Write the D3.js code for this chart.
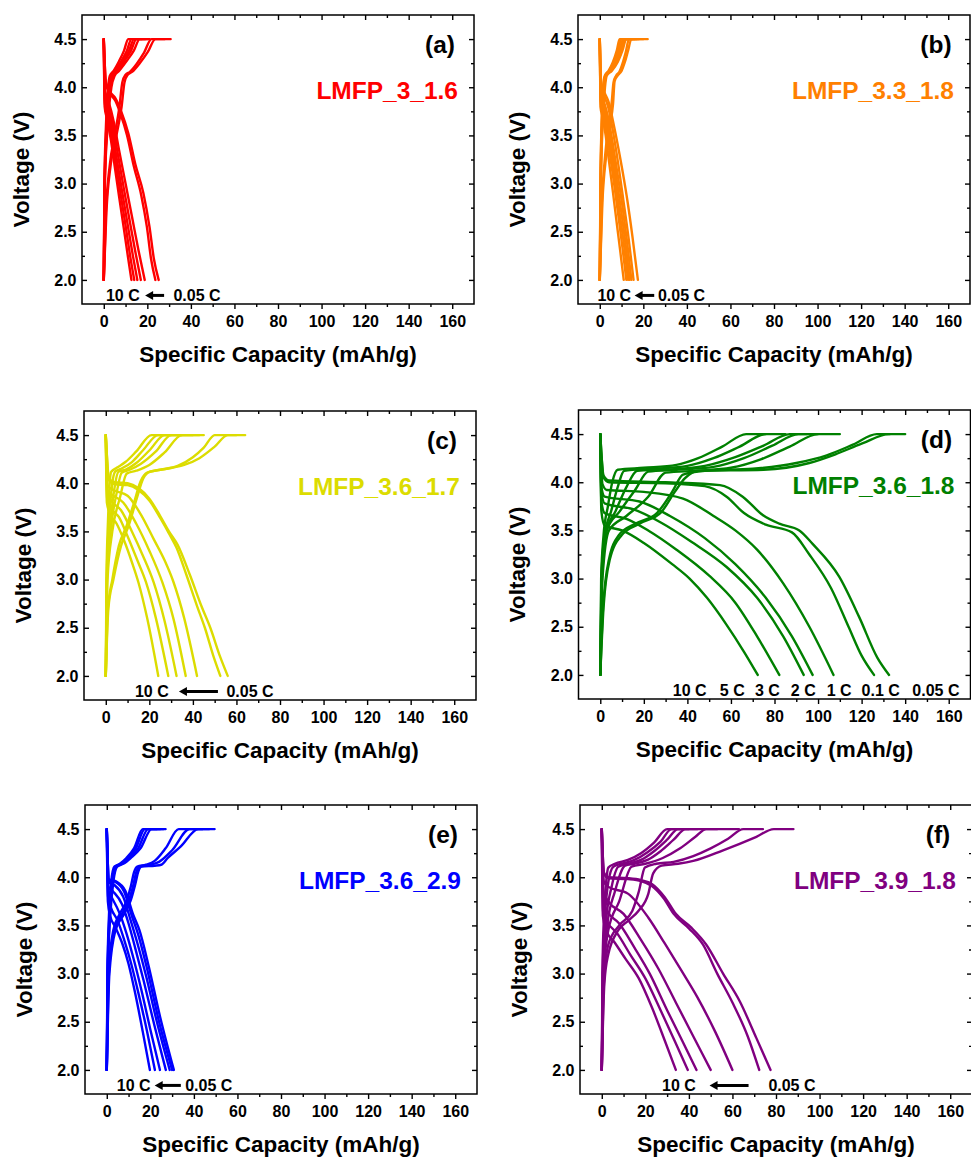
<!DOCTYPE html>
<html>
<head>
<meta charset="utf-8">
<script src="https://cdn.jsdelivr.net/npm/d3@7"></script>
<style>
  body { margin: 0; background: #fff; }
  svg { display: block; }
  text { font-family: "Liberation Sans", Arial, sans-serif; font-weight: bold; }
</style>
</head>
<body>
<svg id="fig" width="971" height="1159"></svg>
<script>
// ---------- data ----------
const rates = ["10 C", "5 C", "3 C", "2 C", "1 C", "0.1 C", "0.05 C"];
const xTickValues = [0, 20, 40, 60, 80, 100, 120, 140, 160];
const yTickValues = [2.0, 2.5, 3.0, 3.5, 4.0, 4.5];
const sampleNames = ["LMFP_3_1.6", "LMFP_3.3_1.8", "LMFP_3.6_1.7", "LMFP_3.6_1.8", "LMFP_3.6_2.9", "LMFP_3.9_1.8"];
const panelLetters = ["(a)", "(b)", "(c)", "(d)", "(e)", "(f)"];

// Each curve: [specific capacity (mAh/g), voltage (V)], one curve per C-rate in `rates` order.
// LMFP_3_1.6
const chargeA = [
  [[0,2.0],[0.3,3.0],[1,3.6],[2,4.0],[2.8,4.12],[4.5,4.17],[7,4.27],[9.3,4.38],[11.2,4.5],[16,4.5]],
  [[0,2.0],[0.35,3.0],[1.2,3.6],[2.3,4.0],[3.3,4.12],[5.2,4.17],[8,4.27],[10.6,4.38],[12.7,4.5],[17.5,4.5]],
  [[0,2.0],[0.4,3.0],[1.4,3.6],[2.6,4.0],[3.8,4.12],[5.8,4.17],[8.7,4.27],[11.6,4.38],[13.9,4.5],[19,4.5]],
  [[0,2.0],[0.45,3.0],[1.6,3.6],[3,4.0],[4.3,4.12],[6.3,4.17],[9.4,4.27],[12.5,4.38],[15,4.5],[20,4.5]],
  [[0,2.0],[0.5,3.0],[1.8,3.6],[3.5,4.0],[5,4.12],[7,4.17],[10.4,4.27],[13.8,4.38],[16.5,4.5],[21.1,4.5]],
  [[0,2.0],[1,2.7],[2.8,3.2],[5,3.5],[7.2,3.8],[8.5,4.05],[10,4.13],[12,4.16],[15,4.24],[18.5,4.36],[21.9,4.5],[28,4.5]],
  [[0,2.0],[1.2,2.7],[3.2,3.2],[5.8,3.5],[8.2,3.8],[9.5,4.05],[11,4.13],[13,4.16],[16.5,4.25],[20.3,4.37],[23.7,4.5],[30.7,4.5]]
];
const dischargeA = [
  [[0,4.5],[0.4,3.8],[1.4,3.68],[3.3,3.45],[5.2,3.15],[7.2,2.84],[9.3,2.52],[11.1,2.24],[12.7,2.0]],
  [[0,4.5],[0.45,3.84],[1.6,3.72],[3.6,3.5],[5.6,3.2],[7.8,2.88],[10.1,2.55],[12.1,2.25],[14,2.0]],
  [[0,4.5],[0.5,3.88],[1.8,3.76],[3.9,3.55],[6,3.25],[8.4,2.92],[11,2.57],[13.3,2.26],[15.4,2.0]],
  [[0,4.5],[0.6,3.92],[2,3.8],[4.2,3.6],[6.5,3.3],[9.2,2.95],[12,2.6],[14.6,2.28],[17,2.0]],
  [[0,4.5],[0.7,3.95],[2.2,3.85],[4.5,3.65],[7,3.35],[10,3.0],[13,2.65],[16,2.3],[18.8,2.0]],
  [[0,4.5],[1,4.03],[3,3.93],[5.3,3.86],[7.6,3.73],[10.7,3.5],[13.8,3.18],[17.2,2.88],[19.8,2.55],[21.7,2.22],[23.7,2.0]],
  [[0,4.5],[1,4.05],[3,3.95],[5.5,3.88],[8,3.75],[11.3,3.52],[14.5,3.2],[18.2,2.9],[21,2.55],[23,2.22],[25.2,2.0]]
];

// LMFP_3.3_1.8
const chargeB = [
  [[0,2.0],[0.3,3.0],[0.8,3.6],[1.5,4.0],[2.3,4.12],[4,4.17],[6,4.26],[7.8,4.38],[9.1,4.5],[14,4.5]],
  [[0,2.0],[0.35,3.0],[0.9,3.6],[1.7,4.0],[2.5,4.12],[4.3,4.17],[6.5,4.26],[8.4,4.38],[9.9,4.5],[15,4.5]],
  [[0,2.0],[0.4,3.0],[1,3.6],[1.9,4.0],[2.7,4.12],[4.6,4.17],[7,4.26],[9.1,4.38],[10.7,4.5],[16,4.5]],
  [[0,2.0],[0.45,3.0],[1.1,3.6],[2.1,4.0],[2.9,4.12],[5,4.17],[7.5,4.26],[9.7,4.38],[11.4,4.5],[17,4.5]],
  [[0,2.0],[0.5,3.0],[1.3,3.6],[2.4,4.0],[3.2,4.12],[5.5,4.17],[8.2,4.26],[10.4,4.38],[12.2,4.5],[18,4.5]],
  [[0,2.0],[1,2.8],[2.5,3.3],[4,3.6],[5.5,3.85],[6.3,4.05],[7.5,4.12],[9,4.16],[10.5,4.25],[12,4.37],[13.4,4.5],[20,4.5]],
  [[0,2.0],[1.2,2.8],[3,3.3],[4.6,3.6],[6.1,3.83],[6.8,4.06],[8.2,4.12],[10,4.17],[11.5,4.26],[13,4.38],[14.5,4.5],[22,4.5]]
];
const dischargeB = [
  [[0,4.5],[0.3,3.8],[1.2,3.7],[2.7,3.5],[4.3,3.22],[6.1,2.9],[7.9,2.57],[9.5,2.28],[11,2.0]],
  [[0,4.5],[0.4,3.85],[1.3,3.75],[2.9,3.57],[4.7,3.3],[6.7,2.98],[8.7,2.64],[10.5,2.32],[12.2,2.0]],
  [[0,4.5],[0.4,3.88],[1.4,3.8],[3.1,3.62],[5,3.36],[7.1,3.03],[9.2,2.68],[11.2,2.35],[13,2.0]],
  [[0,4.5],[0.5,3.92],[1.5,3.83],[3.3,3.67],[5.2,3.42],[7.5,3.08],[9.8,2.72],[11.8,2.38],[13.7,2.0]],
  [[0,4.5],[0.5,3.95],[1.6,3.87],[3.5,3.72],[5.5,3.48],[8,3.12],[10.5,2.75],[12.5,2.4],[14.5,2.0]],
  [[0,4.5],[0.6,4.0],[1.8,3.92],[3.8,3.8],[6,3.55],[8.5,3.2],[11,2.8],[13.3,2.42],[15.5,2.0]],
  [[0,4.5],[0.7,4.02],[2,3.95],[4,3.85],[6.5,3.6],[9.5,3.25],[12.5,2.85],[15,2.45],[17.5,2.0]]
];

// LMFP_3.6_1.7
const chargeC = [
  [[0,2.0],[0.3,3.0],[1,3.6],[1.8,4.0],[2.5,4.12],[5,4.16],[9,4.22],[14,4.33],[21,4.5],[30,4.5]],
  [[0,2.0],[0.4,3.0],[1.5,3.6],[3,4.0],[4.3,4.12],[7,4.15],[12,4.22],[17,4.34],[24,4.5],[35,4.5]],
  [[0,2.0],[0.5,3.0],[2,3.55],[4,3.95],[5.8,4.12],[9,4.14],[14,4.21],[20,4.34],[27,4.5],[40,4.5]],
  [[0,2.0],[0.6,3.0],[2.5,3.55],[5,3.9],[7.3,4.11],[11,4.14],[16,4.2],[23,4.33],[30,4.5],[43,4.5]],
  [[0,2.0],[0.8,3.0],[3,3.5],[6.5,3.85],[9.6,4.1],[14,4.13],[20,4.19],[27,4.32],[35,4.5],[45,4.5]],
  [[0,2.0],[1,2.7],[3,3.0],[6,3.35],[9.6,3.56],[13,3.8],[16,4.02],[19,4.11],[25,4.14],[33,4.18],[40,4.27],[45,4.37],[50,4.5],[60,4.5]],
  [[0,2.0],[1.2,2.7],[3.5,3.0],[7,3.35],[10.5,3.56],[14.2,3.84],[17.2,4.05],[20.3,4.12],[28,4.15],[36,4.19],[43,4.26],[50,4.38],[56,4.5],[64,4.5]]
];
const dischargeC = [
  [[0,4.5],[0.5,3.8],[2,3.68],[5,3.58],[8.5,3.4],[12,3.18],[15,2.97],[19,2.6],[24.1,2.0]],
  [[0,4.5],[0.6,3.85],[2.2,3.75],[6,3.65],[10,3.45],[14.5,3.2],[18.5,2.97],[23,2.6],[28.7,2.0]],
  [[0,4.5],[0.7,3.9],[2.5,3.82],[7,3.72],[12,3.5],[17,3.25],[22,2.97],[27,2.57],[32.5,2.0]],
  [[0,4.5],[0.8,3.93],[3,3.88],[8,3.8],[14,3.58],[20,3.3],[26,2.97],[31,2.6],[36.7,2.0]],
  [[0,4.5],[1,3.97],[3.5,3.93],[10,3.87],[16,3.68],[22,3.42],[27,3.2],[31,2.98],[36,2.6],[41.9,2.0]],
  [[0,4.5],[1.5,4.03],[4,3.99],[10,3.98],[15,3.93],[20,3.82],[25,3.64],[29,3.48],[32.5,3.33],[37,3.05],[42,2.72],[45.5,2.5],[49.5,2.2],[52.6,2.0]],
  [[0,4.5],[1.5,4.05],[4,4.01],[10,4.0],[15,3.95],[20,3.84],[25,3.66],[29,3.5],[33,3.36],[38.6,3.05],[44,2.72],[48,2.5],[52.5,2.2],[56,2.0]]
];

// LMFP_3.6_1.8
const chargeD = [
  [[0,2.0],[0.4,3.0],[1.5,3.45],[3.5,3.75],[5.5,4.0],[8,4.13],[20,4.15],[35,4.18],[45,4.25],[56,4.37],[67,4.5],[76,4.5]],
  [[0,2.0],[0.5,3.0],[2,3.45],[5,3.7],[8,3.95],[11,4.12],[25,4.14],[40,4.17],[52,4.25],[64,4.37],[76,4.5],[85,4.5]],
  [[0,2.0],[0.6,3.0],[2.5,3.48],[7,3.7],[12,3.95],[17,4.12],[30,4.13],[48,4.17],[62,4.26],[75,4.38],[87,4.5],[95,4.5]],
  [[0,2.0],[0.8,3.0],[3,3.5],[9,3.7],[16,3.92],[22,4.11],[35,4.13],[52,4.16],[66,4.25],[79,4.38],[91,4.5],[100,4.5]],
  [[0,2.0],[1,3.0],[4,3.5],[12,3.65],[22,3.85],[30,4.1],[45,4.12],[60,4.15],[74,4.24],[87,4.37],[100,4.5],[110,4.5]],
  [[0,2.0],[1.3,2.7],[4,3.2],[8.5,3.45],[16,3.57],[26,3.68],[33,3.9],[38,4.08],[48,4.12],[70,4.14],[90,4.2],[104,4.28],[116,4.39],[127,4.5],[133,4.5]],
  [[0,2.0],[1.5,2.7],[4.4,3.2],[9.8,3.45],[18,3.57],[28,3.69],[34.2,3.9],[38.8,4.04],[45,4.12],[75,4.13],[96,4.2],[108,4.29],[120,4.4],[132.6,4.5],[140,4.5]]
];
const dischargeD = [
  [[0,4.5],[0.5,3.7],[2,3.55],[10,3.5],[20,3.37],[33,3.15],[41,3.0],[49,2.8],[58,2.52],[66,2.24],[72.3,2.0]],
  [[0,4.5],[0.5,3.8],[2,3.68],[12,3.62],[22,3.5],[35,3.3],[50,3.03],[62,2.75],[72,2.4],[82.2,2.0]],
  [[0,4.5],[0.5,3.9],[2,3.78],[15,3.72],[28,3.58],[42,3.38],[58,3.12],[72,2.8],[84,2.4],[93.4,2.0]],
  [[0,4.5],[0.5,3.95],[2,3.85],[18,3.8],[32,3.65],[48,3.42],[62,3.15],[76,2.8],[88,2.4],[97.5,2.0]],
  [[0,4.5],[1,3.98],[3,3.92],[20,3.9],[38,3.83],[52,3.65],[62,3.5],[72,3.3],[84,2.95],[96,2.5],[107.1,2.0]],
  [[0,4.5],[1.5,4.05],[4,4.0],[30,3.99],[48,3.96],[58,3.85],[66,3.68],[76,3.56],[88,3.48],[96,3.25],[106,2.9],[114,2.5],[120,2.2],[125.7,2.0]],
  [[0,4.5],[1.5,4.07],[4,4.02],[30,4.0],[55,3.97],[65.4,3.85],[74.6,3.66],[82.2,3.57],[91.4,3.5],[97.5,3.36],[109.7,3.02],[118.9,2.6],[127.2,2.18],[132.6,2.0]]
];

// LMFP_3.6_2.9
const chargeE = [
  [[0,2.0],[0.3,3.0],[1,3.6],[2,3.95],[3.5,4.11],[6,4.14],[9,4.2],[12.5,4.3],[16.5,4.5],[23,4.5]],
  [[0,2.0],[0.35,3.0],[1.2,3.6],[2.3,3.95],[3.9,4.11],[6.5,4.14],[9.6,4.2],[13.3,4.3],[17.5,4.5],[24.5,4.5]],
  [[0,2.0],[0.4,3.0],[1.4,3.6],[2.6,3.95],[4.3,4.11],[7,4.14],[10.3,4.2],[14.4,4.3],[19,4.5],[26,4.5]],
  [[0,2.0],[0.45,3.0],[1.6,3.6],[3,3.95],[4.8,4.11],[7.6,4.14],[11,4.2],[15.5,4.3],[20.6,4.5],[27,4.5]],
  [[0,2.0],[0.8,3.0],[3,3.45],[6,3.62],[9,3.75],[11,3.9],[12.5,4.05],[14,4.11],[18,4.13],[22,4.17],[27,4.3],[33,4.5],[44,4.5]],
  [[0,2.0],[1,3.0],[3.5,3.45],[7,3.62],[10,3.75],[12,3.9],[13.5,4.05],[15,4.11],[20,4.13],[24,4.16],[30,4.28],[38,4.5],[47,4.5]],
  [[0,2.0],[1.2,3.0],[4,3.45],[8,3.62],[11,3.76],[13,3.92],[14.5,4.06],[16,4.11],[22,4.12],[25,4.13],[28,4.2],[34,4.32],[42,4.5],[49.5,4.5]]
];
const dischargeE = [
  [[0,4.5],[0.5,3.75],[1.5,3.6],[4,3.48],[7,3.32],[10,3.1],[13,2.8],[16.5,2.4],[19.8,2.0]],
  [[0,4.5],[0.6,3.8],[2,3.68],[5,3.55],[8,3.35],[11,3.12],[14.5,2.8],[18.5,2.4],[22.1,2.0]],
  [[0,4.5],[0.7,3.85],[2.5,3.78],[6,3.62],[9,3.42],[12,3.18],[16,2.82],[20,2.42],[24.4,2.0]],
  [[0,4.5],[0.8,3.9],[3,3.85],[7,3.72],[10,3.52],[13,3.27],[17,2.92],[22,2.45],[27.1,2.0]],
  [[0,4.5],[1,3.95],[3.5,3.92],[7.5,3.8],[11,3.55],[14,3.32],[18,2.98],[23,2.5],[28.9,2.0]],
  [[0,4.5],[1,3.97],[4,3.95],[8,3.85],[11.5,3.6],[14.5,3.4],[18.5,3.05],[24,2.5],[30,2.0]],
  [[0,4.5],[1,3.98],[4,3.96],[8.5,3.86],[12,3.62],[15,3.45],[19,3.1],[24.5,2.55],[30.8,2.0]]
];

// LMFP_3.9_1.8
const chargeF = [
  [[0,2.0],[0.3,3.0],[1,3.6],[2,3.95],[3,4.1],[6,4.14],[12,4.18],[18,4.25],[24,4.36],[30,4.5],[36,4.5]],
  [[0,2.0],[0.4,3.0],[1.5,3.6],[3,3.95],[5.3,4.11],[9,4.14],[15,4.18],[21,4.26],[27,4.37],[32,4.5],[40,4.5]],
  [[0,2.0],[0.5,3.0],[2,3.55],[4.5,3.9],[7.6,4.11],[12,4.14],[18,4.18],[24,4.27],[30,4.39],[35,4.5],[44,4.5]],
  [[0,2.0],[0.6,3.0],[2.5,3.5],[6,3.85],[10.7,4.12],[15,4.14],[21,4.18],[27,4.27],[33,4.39],[38.5,4.5],[53,4.5]],
  [[0,2.0],[0.8,3.0],[3,3.45],[8,3.75],[13.7,4.11],[20,4.14],[28,4.2],[36,4.3],[43,4.42],[48,4.5],[63,4.5]],
  [[0,2.0],[1,2.9],[3,3.3],[8,3.5],[14,3.65],[17,3.85],[19.8,4.1],[25,4.14],[33,4.16],[42,4.22],[50,4.3],[58,4.4],[65,4.5],[74,4.5]],
  [[0,2.0],[1.2,2.9],[3,3.2],[7.6,3.45],[12.2,3.55],[16.8,3.65],[21.4,3.83],[23.6,4.04],[27.5,4.12],[35,4.14],[42,4.17],[55.7,4.28],[71,4.42],[79,4.5],[88,4.5]]
];
const dischargeF = [
  [[0,4.5],[0.5,3.6],[2,3.45],[6,3.32],[11,3.15],[17,2.95],[23,2.65],[29,2.3],[34,2.0]],
  [[0,4.5],[0.6,3.65],[2.2,3.55],[7,3.42],[13,3.2],[20,2.95],[27,2.62],[33.5,2.3],[39.5,2.0]],
  [[0,4.5],[0.7,3.75],[2.5,3.65],[8,3.52],[15,3.27],[22,3.0],[30,2.62],[37,2.3],[43.5,2.0]],
  [[0,4.5],[0.8,3.85],[3,3.75],[10,3.62],[18,3.35],[26,3.05],[34,2.7],[42,2.35],[50,2.0]],
  [[0,4.5],[1,3.95],[3,3.9],[12,3.83],[21.4,3.58],[29,3.31],[36.6,3.03],[44,2.75],[52,2.4],[60,2.0]],
  [[0,4.5],[1,4.04],[3,3.99],[12,3.98],[18,3.96],[23,3.91],[28.5,3.78],[33,3.62],[40,3.47],[46.5,3.3],[53,3.0],[60,2.7],[67,2.35],[72.3,2.0]],
  [[0,4.5],[1,4.05],[3,4.0],[12,3.99],[18,3.97],[23,3.93],[29,3.79],[34,3.62],[41,3.48],[48,3.3],[55.7,3.0],[63.4,2.71],[71,2.33],[77.5,2.0]]
];

const chargeCurves = [chargeA, chargeB, chargeC, chargeD, chargeE, chargeF];
const dischargeCurves = [dischargeA, dischargeB, dischargeC, dischargeD, dischargeE, dischargeF];

// ---------- layout & style ----------
const sampleColors = ["#ff0000", "#ff8000", "#dcdc00", "#008000", "#0000ff", "#800080"];
const W = 392, H = 289;
const xDomain = [-10, 170], yDomain = [1.75, 4.75];
const panelLayout = [
  { left: 82,    top: 15,  note: { from: 1,    tail: 27.7, tip: 19,   to: 32 } },
  { left: 578,   top: 15,  note: { from: -1.1, tail: 25,   tip: 16,   to: 26.7 } },
  { left: 84,    top: 411, note: { from: 13.4, tail: 51.5, tip: 33.6, to: 55.4 } },
  { left: 578.5, top: 410, rateLabelsAt: [33.3, 54.9, 71, 87.5, 104, 120, 143.3] },
  { left: 85,    top: 805, note: { from: 4.6,  tail: 34,   tip: 22,   to: 36 } },
  { left: 580,   top: 805, note: { from: 27.7, tail: 67.4, tip: 49.5, to: 76.5 } }
];

const svg = d3.select("#fig");
const tickFont = "16px", titleFont = "22.5px", noteFont = "16px";

panelLayout.forEach((L, i) => {
  const color = sampleColors[i];
  const g = svg.append("g").attr("transform", `translate(${L.left},${L.top})`);
  const x = d3.scaleLinear().domain(xDomain).range([0, W]);
  const y = d3.scaleLinear().domain(yDomain).range([H, 0]);

  const line = d3.line().x(d => x(d[0])).y(d => y(d[1])).curve(d3.curveMonotoneX);

  const curves = g.append("g").attr("fill", "none").attr("stroke", color)
    .attr("stroke-width", 2.4).attr("stroke-linejoin", "round").attr("stroke-linecap", "round");
  dischargeCurves[i].forEach(c => curves.append("path").attr("d", line(c)));
  chargeCurves[i].forEach(c => curves.append("path").attr("d", line(c)));

  // axes: bottom ticks outward, the other three sides inward
  const xMinor = d3.range(10, 170, 20);
  const yMinor = [2.25, 2.75, 3.25, 3.75, 4.25];

  const styleAxis = sel => {
    sel.select(".domain").remove();
    sel.selectAll("line").attr("stroke", "#000").attr("stroke-width", 1.4);
    sel.selectAll("text").style("font-size", tickFont).attr("fill", "#000");
  };

  g.append("g").attr("transform", `translate(0,${H})`)
    .call(d3.axisBottom(x).tickValues(xTickValues).tickFormat(d3.format("d")).tickSize(5).tickPadding(6.5))
    .call(styleAxis);
  g.append("g").attr("transform", `translate(0,${H})`)
    .call(d3.axisBottom(x).tickValues(xMinor).tickFormat("").tickSize(3)).call(styleAxis);

  g.append("g").call(d3.axisTop(x).tickValues(xTickValues).tickFormat("").tickSize(-5)).call(styleAxis);
  g.append("g").call(d3.axisTop(x).tickValues(xMinor).tickFormat("").tickSize(-3)).call(styleAxis);

  g.append("g")
    .call(d3.axisLeft(y).tickValues(yTickValues).tickFormat(d3.format(".1f")).tickSize(-5).tickPadding(5.5))
    .call(styleAxis);
  g.append("g").call(d3.axisLeft(y).tickValues(yMinor).tickFormat("").tickSize(-3)).call(styleAxis);

  g.append("g").attr("transform", `translate(${W},0)`)
    .call(d3.axisRight(y).tickValues(yTickValues).tickFormat("").tickSize(-5)).call(styleAxis);
  g.append("g").attr("transform", `translate(${W},0)`)
    .call(d3.axisRight(y).tickValues(yMinor).tickFormat("").tickSize(-3)).call(styleAxis);

  g.append("rect").attr("width", W).attr("height", H)
    .attr("fill", "none").attr("stroke", "#000").attr("stroke-width", 1.5);

  // axis titles
  g.append("text").attr("x", W / 2).attr("y", H + 58).attr("text-anchor", "middle")
    .style("font-size", titleFont).text("Specific Capacity (mAh/g)");
  g.append("text").attr("transform", `translate(-53.5,${H / 2 + 10}) rotate(-90)`)
    .attr("text-anchor", "middle").style("font-size", titleFont).text("Voltage (V)");

  // panel letter and sample name
  g.append("text").attr("x", W - 34).attr("y", 29).attr("text-anchor", "middle")
    .attr("dominant-baseline", "central").style("font-size", "24.5px").text(panelLetters[i]);
  g.append("text").attr("x", W - 16).attr("y", y(4.0) + 12).attr("text-anchor", "end")
    .attr("fill", color).style("font-size", "24.5px").text(sampleNames[i]);

  // C-rate annotations
  const baseY = y(2.0) + 21;
  if (L.note) {
    const n = L.note;
    g.append("text").attr("x", x(n.from)).attr("y", baseY).style("font-size", noteFont).text(rates[0]);
    g.append("text").attr("x", x(n.to)).attr("y", baseY).style("font-size", noteFont).text(rates[6]);
    const ay = baseY - 5.5, head = 8;
    g.append("line").attr("x1", x(n.tail)).attr("x2", x(n.tip) + head - 1)
      .attr("y1", ay).attr("y2", ay).attr("stroke", "#000").attr("stroke-width", 3);
    g.append("path")
      .attr("d", `M${x(n.tip)},${ay} L${x(n.tip) + head},${ay - 4.5} L${x(n.tip) + head},${ay + 4.5} Z`)
      .attr("fill", "#000");
  } else {
    L.rateLabelsAt.forEach((pos, k) => {
      g.append("text").attr("x", x(pos)).attr("y", baseY).style("font-size", noteFont).text(rates[k]);
    });
  }
});
</script>
</body>
</html>
